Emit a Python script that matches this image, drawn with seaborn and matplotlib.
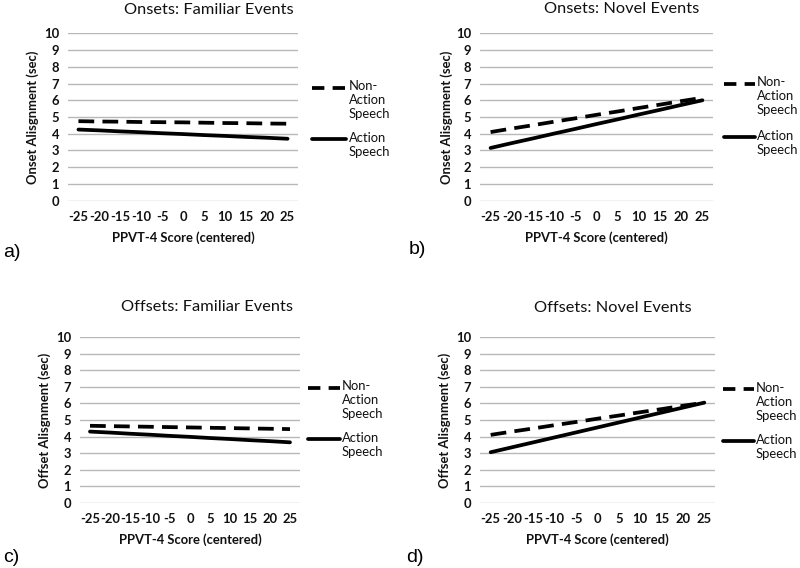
import matplotlib
matplotlib.use('Agg')
import matplotlib.pyplot as plt
from matplotlib.lines import Line2D
import seaborn as sns

# PPVT-4 score (centered) - x categories
scores = [-25, -20, -15, -10, -5, 0, 5, 10, 15, 20, 25]
score_labels = ['-25', '-20', '-15', '-10', '-5', '0', '5', '10', '15', '20', '25']
y_ticks = [0, 1, 2, 3, 4, 5, 6, 7, 8, 9, 10]

# a) onsets, familiar events
onset_fam_nonaction = [4.75, 4.73, 4.72, 4.70, 4.69, 4.68, 4.66, 4.64, 4.63, 4.61, 4.60]
onset_fam_action = [4.25, 4.20, 4.14, 4.09, 4.03, 3.98, 3.92, 3.87, 3.81, 3.76, 3.70]
# b) onsets, novel events
onset_nov_nonaction = [4.10, 4.31, 4.51, 4.72, 4.92, 5.13, 5.33, 5.54, 5.74, 5.95, 6.15]
onset_nov_action = [3.15, 3.44, 3.72, 4.01, 4.29, 4.58, 4.86, 5.15, 5.43, 5.72, 6.00]
# c) offsets, familiar events
offset_fam_nonaction = [4.65, 4.63, 4.61, 4.59, 4.57, 4.55, 4.53, 4.51, 4.49, 4.47, 4.45]
offset_fam_action = [4.30, 4.24, 4.17, 4.11, 4.04, 3.98, 3.91, 3.85, 3.78, 3.72, 3.65]
# d) offsets, novel events
offset_nov_nonaction = [4.10, 4.30, 4.49, 4.69, 4.88, 5.08, 5.27, 5.47, 5.66, 5.86, 6.05]
offset_nov_action = [3.05, 3.35, 3.65, 3.95, 4.25, 4.55, 4.85, 5.15, 5.45, 5.75, 6.05]

legend_nonaction = 'Non-\nAction\nSpeech'
legend_action = 'Action\nSpeech'

sns.set_theme(style='white')
plt.rcParams['font.family'] = ['Lato', 'DejaVu Sans']

W, H = 800, 568
fig = plt.figure(figsize=(8, 5.68), dpi=100)
fig.patch.set_facecolor('white')

TXT = '#111111'
GRID = '#b8b8b8'
LW = 2.7
DASH = (0, (4.2, 2.2))
FS = 9.4


def fx(x):
    return x / W


def fy(y):
    return 1 - y / H


# 패널 설정: 축 위치(px), 제목, y축 이름, 데이터, 범례 위치, 패널 글자
panels = [
    dict(rect=(68, 33, 298, 201), title='Onsets: Familiar Events', tpos=(209, 10),
         ylabel='Onset Alisgnment (sec)', ylx=33, xly=238,
         non=onset_fam_nonaction, act=onset_fam_action,
         leg=(312, 346, 349, 88, 139), letter='a)', lpos=(3, 252)),
    dict(rect=(480, 33, 713, 201), title='Onsets: Novel Events', tpos=(622, 9),
         ylabel='Onset Alisgnment (sec)', ylx=447, xly=238,
         non=onset_nov_nonaction, act=onset_nov_action,
         leg=(724, 755, 757, 84, 137), letter='b)', lpos=(409, 250)),
    dict(rect=(80, 337, 300, 503), title='Offsets: Familiar Events', tpos=(207, 307),
         ylabel='Offset Alisgnment (sec)', ylx=45, xly=540,
         non=offset_fam_nonaction, act=offset_fam_action,
         leg=(308, 340, 342, 388, 439), letter='c)', lpos=(3, 557)),
    dict(rect=(480, 337, 715, 503), title='Offsets: Novel Events', tpos=(613, 308),
         ylabel='Offset Alisgnment (sec)', ylx=445, xly=540,
         non=offset_nov_nonaction, act=offset_nov_action,
         leg=(723, 754, 756, 389, 441), letter='d)', lpos=(406, 557)),
]

for p in panels:
    x0, y0, x1, y1 = p['rect']
    w, h = x1 - x0, y1 - y0
    ax = fig.add_axes([fx(x0), fy(y1), w / W, h / H])

    sns.lineplot(x=scores, y=p['non'], color='black', linewidth=LW,
                 linestyle=DASH, ax=ax)
    sns.lineplot(x=scores, y=p['act'], color='black', linewidth=LW, ax=ax)

    ax.set_xlim(-27.5, 27.5)
    ax.set_ylim(-0.02, 10.02)
    ax.set_xticks(scores)
    ax.set_xticklabels(score_labels)
    ax.set_yticks(y_ticks)
    ax.set_yticklabels([str(t) for t in y_ticks])
    ax.yaxis.grid(True, color=GRID, linewidth=1.0)
    ax.xaxis.grid(False)
    ax.set_axisbelow(True)
    for s in ax.spines.values():
        s.set_visible(False)
    ax.tick_params(axis='both', length=0, labelsize=FS, colors=TXT)
    ax.tick_params(axis='x', pad=7)
    ax.tick_params(axis='y', pad=6.5)
    for lab in ax.get_xticklabels() + ax.get_yticklabels():
        lab.set_fontweight('bold')

    ax.set_xlabel('PPVT-4 Score (centered)', fontsize=FS, fontweight='bold', color=TXT)
    ax.xaxis.set_label_coords(0.5, -(p['xly'] - y1) / h)
    ax.xaxis.label.set_va('center')
    ax.set_ylabel(p['ylabel'], fontsize=FS, fontweight='bold', color=TXT)
    ax.yaxis.set_label_coords(-(x0 - p['ylx']) / w, 0.5)
    ax.yaxis.label.set_va('center')

    # 제목
    fig.text(fx(p['tpos'][0]), fy(p['tpos'][1]), p['title'], ha='center', va='center',
             fontsize=11.8, color=TXT)

    # 범례 (엑셀 스타일: 선이 첫 줄에 맞춰짐)
    hx0, hx1, tx, yn, ya = p['leg']
    fig.add_artist(Line2D([fx(hx0), fx(hx1)], [fy(yn), fy(yn)], color='black',
                          linewidth=LW, linestyle=(0, (3.3, 2.2))))
    fig.add_artist(Line2D([fx(hx0), fx(hx1)], [fy(ya), fy(ya)], color='black',
                          linewidth=LW))
    fig.text(fx(tx), fy(yn - 7.5), legend_nonaction, ha='left', va='top',
             fontsize=FS, color=TXT, linespacing=1.2)
    fig.text(fx(tx), fy(ya - 7.5), legend_action, ha='left', va='top',
             fontsize=FS, color=TXT, linespacing=1.2)

    # 패널 글자
    fig.text(fx(p['lpos'][0]), fy(p['lpos'][1]), p['letter'], ha='left', va='center',
             fontsize=14, color='black', family=['Liberation Sans', 'DejaVu Sans'])

fig.savefig('out.png', dpi=100, facecolor='white')
